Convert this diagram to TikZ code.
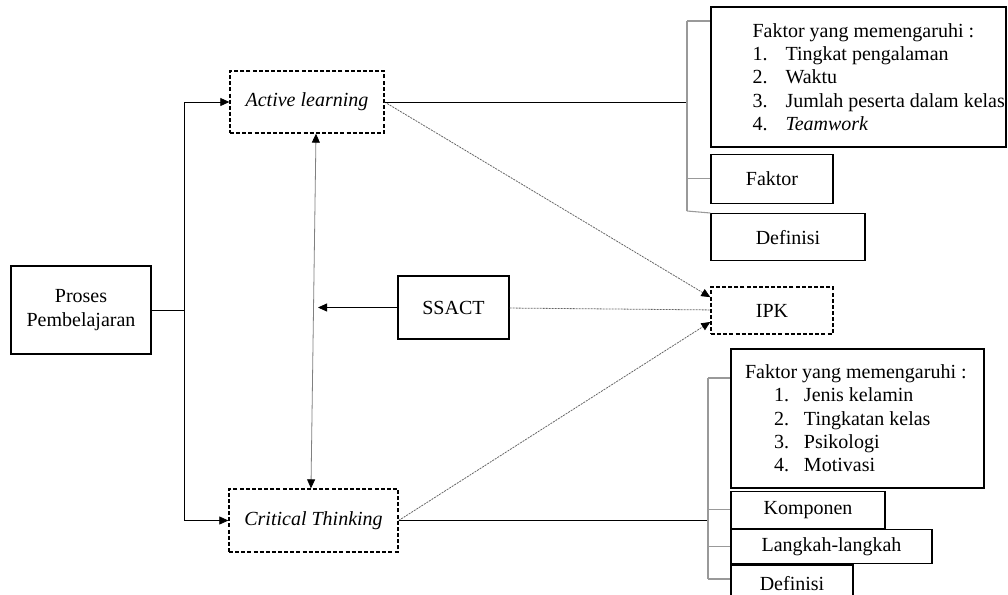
\documentclass[tikz,border=0pt]{standalone}
\usepackage{fontspec}
\setmainfont{Liberation Serif}
\usetikzlibrary{arrows.meta, positioning}
\newcommand{\itm}[3][24.75pt]{\makebox[#1][l]{#2}#3}

\begin{document}
\begin{tikzpicture}[
  x=0.75pt, y=-0.75pt,
  font=\fontsize{15}{17.5}\selectfont,
  bx/.style={draw, line width=1pt, inner sep=2pt, align=center},
  dbx/.style={bx, dash pattern=on 3pt off 1.6pt},
  arr/.style={-{Triangle[length=6.75pt,width=6pt]}, line width=0.6pt},
  dbl/.style={{Triangle[length=6.75pt,width=6pt,color=black]}-{Triangle[length=6.75pt,width=6pt,color=black]}, gray, line width=0.6pt},
  dotln/.style={dash pattern=on 1.5pt off 0.75pt, gray!80!black, line width=0.6pt},
  dotarr/.style={dotln, -{Triangle[length=6.75pt,width=6pt,color=black]}},
  ln/.style={line width=0.6pt},
  brk/.style={gray!80, line width=0.8pt}
]
\clip (0,0) rectangle (1008,594);

\node[bx, minimum width=105pt, minimum height=66pt] (proses) at (81,310) {Proses\\Pembelajaran};
\node[dbx, minimum width=115.5pt, minimum height=46.5pt] (active) at (307,102) {\textit{Active learning}};
\node[dbx, minimum width=126.75pt, minimum height=47.25pt] (critical) at (313.5,520.5) {\textit{Critical Thinking}};
\node[bx, minimum width=83.25pt, minimum height=47.25pt] (ssact) at (453.5,307.5) {SSACT};
\node[dbx, minimum width=91.5pt, minimum height=35.25pt] (ipk) at (772,310.5) {IPK};

\node[bx, inner sep=0pt, minimum width=221.25pt, minimum height=105pt] (fak1) at (858.5,77) {\hspace*{30.75pt}\begin{minipage}{189.75pt}
Faktor yang memengaruhi :\\
\itm{1.}{Tingkat pengalaman}\\
\itm{2.}{Waktu}\\
\itm{3.}{Jumlah peserta dalam kelas}\\
\itm{4.}{\textit{Teamwork}}
\end{minipage}};
\node[bx, minimum width=91.5pt, minimum height=36.75pt, below=4.5pt of fak1.south west, anchor=north west] (fak1b) {Faktor};
\node[bx, minimum width=115.5pt, minimum height=35.25pt, below=6.75pt of fak1b.south west, anchor=north west] (def1) {Definisi};

\node[bx, inner sep=0pt, minimum width=189.75pt, minimum height=104.25pt] (fak2) at (857.5,418.5) {\begin{minipage}{168.75pt}
Faktor yang memengaruhi :\\
\hspace*{21.75pt}\itm[22.5pt]{1.}{Jenis kelamin}\\
\hspace*{21.75pt}\itm[22.5pt]{2.}{Tingkatan kelas}\\
\hspace*{21.75pt}\itm[22.5pt]{3.}{Psikologi}\\
\hspace*{21.75pt}\itm[22.5pt]{4.}{Motivasi}
\end{minipage}};
\node[bx, minimum width=115.5pt, minimum height=27.75pt, below=1.5pt of fak2.south west, anchor=north west] (komp) {Komponen};
\node[bx, minimum width=150.75pt, minimum height=25.5pt, below=0pt of komp.south west, anchor=north west] (lang) {Langkah-langkah};
\node[bx, minimum width=91.5pt, minimum height=28.5pt, below=0pt of lang.south west, anchor=north west] (def2) {Definisi};

\coordinate (br) at (184,310);
\coordinate (mid) at (318,307.5);
\coordinate (t1) at (687,21);
\coordinate (t2) at (687,211);
\coordinate (u1) at (708,378);
\coordinate (u2) at (708,579);

\draw[ln] (proses) -- (br);
\draw[arr] (br) |- (active);
\draw[arr] (br) |- (critical);
\draw[dbl] ([xshift=6.75pt]active.south) -- ([xshift=-1.9pt]critical.north);
\draw[arr] (ssact) -- (mid);

\draw[dotarr] (active.east) -- ([yshift=10pt]ipk.west);
\draw[dotln] (ssact) -- (ipk);
\draw[dotarr] (critical.east) -- ([yshift=-8.6pt]ipk.west);

\draw[ln] (active.east) -- (active.east -| t1);
\draw[brk] (t1) -- (t2);
\draw[brk] (t1) -- (t1 -| fak1.west);
\draw[brk] (fak1b.west -| t1) -- (fak1b.west);
\draw[brk] (t2) -- (def1.north west);

\draw[ln] (critical.east) -- (critical.east -| u1);
\draw[brk] (u1) -- (u2);
\draw[brk] (u1) -- (u1 -| fak2.west);
\draw[brk] (komp.west -| u1) -- (komp.west);
\draw[brk] (lang.west -| u1) -- (lang.west);
\draw[brk] (u2) -- (u2 -| def2.west);
\end{tikzpicture}
\end{document}
